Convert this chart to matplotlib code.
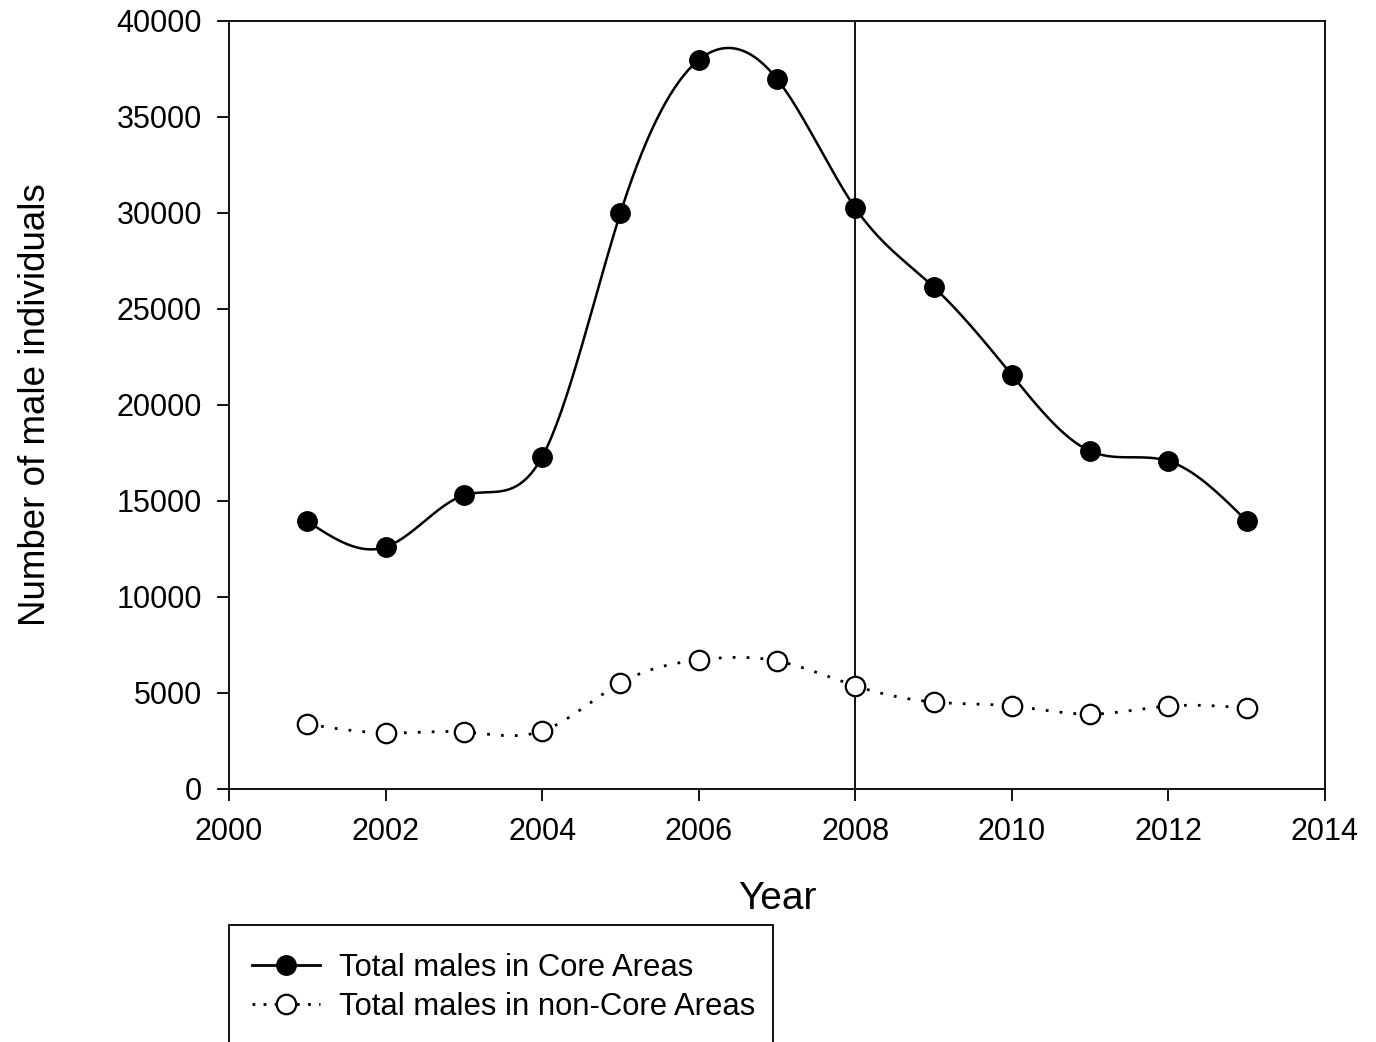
import numpy as np
import matplotlib
matplotlib.use('Agg')
import matplotlib.pyplot as plt
from matplotlib.patches import Rectangle

plt.rcParams['font.family'] = ['Liberation Sans', 'DejaVu Sans']

years = [2001, 2002, 2003, 2004, 2005, 2006, 2007, 2008, 2009, 2010, 2011, 2012, 2013]
core = [13950, 12600, 15300, 17300, 30000, 37970, 36980, 30260, 26150, 21560, 17600, 17080, 13960]
noncore = [3380, 2920, 2970, 3020, 5520, 6720, 6670, 5370, 4530, 4320, 3900, 4320, 4220]


def spline(x, y, n=400):
    # natural cubic spline through the points
    x = np.asarray(x, float)
    y = np.asarray(y, float)
    k = len(x)
    h = np.diff(x)
    A = np.zeros((k, k))
    b = np.zeros(k)
    A[0, 0] = A[-1, -1] = 1
    for i in range(1, k - 1):
        A[i, i - 1] = h[i - 1]
        A[i, i] = 2 * (h[i - 1] + h[i])
        A[i, i + 1] = h[i]
        b[i] = 6 * ((y[i + 1] - y[i]) / h[i] - (y[i] - y[i - 1]) / h[i - 1])
    M = np.linalg.solve(A, b)
    xs = np.linspace(x[0], x[-1], n)
    idx = np.clip(np.searchsorted(x, xs) - 1, 0, k - 2)
    x0, x1 = x[idx], x[idx + 1]
    hh = x1 - x0
    ys = (M[idx] * (x1 - xs) ** 3 / (6 * hh) + M[idx + 1] * (xs - x0) ** 3 / (6 * hh)
          + (y[idx] / hh - M[idx] * hh / 6) * (x1 - xs)
          + (y[idx + 1] / hh - M[idx + 1] * hh / 6) * (xs - x0))
    return xs, ys


fig = plt.figure(figsize=(13.76, 10.42), dpi=100)
ax = fig.add_axes([229 / 1376, 1 - 789 / 1042, (1325 - 229) / 1376, (789 - 21) / 1042])

xs, ys = spline(years, core)
ax.plot(xs, ys, 'k-', lw=1.8)
ax.plot(years, core, 'o', color='k', ms=14, zorder=3)

xs, ys = spline(years, noncore)
ax.plot(xs, ys, 'k', ls=(0, (1, 4)), lw=2)
ax.plot(years, noncore, 'o', mfc='white', mec='k', mew=1.6, ms=14, zorder=3)

ax.axvline(2008, color='k', lw=1.3)

ax.set_xlim(2000, 2014)
ax.set_ylim(0, 40000)
ax.set_xticks(range(2000, 2015, 2))
ax.set_yticks(range(0, 40001, 5000))
ax.tick_params(direction='out', length=8.5, width=1.3, labelsize=22)
ax.tick_params(axis='y', pad=11)
ax.tick_params(axis='x', pad=12)
for s in ax.spines.values():
    s.set_linewidth(1.3)
ax.set_xlabel('Year', fontsize=28, labelpad=24)
ax.set_ylabel('Number of male individuals', fontsize=26.5, labelpad=46)

fig.patches.append(Rectangle((229 / 1376, -0.05), (773 - 229) / 1376, 0.05 + 1 - 925 / 1042,
                             transform=fig.transFigure, fill=False, ec='k', lw=1.3))
h1, = ax.plot([], [], 'k-', marker='o', ms=14, lw=2)
h2, = ax.plot([], [], 'k', ls=(0, (1, 3)), lw=2, marker='o', mfc='white', mec='k', mew=1.6, ms=14)
fig.legend([h1, h2], ['Total males in Core Areas', 'Total males in non-Core Areas'],
           loc='upper left', bbox_to_anchor=(224 / 1376, 1 - 925 / 1042), frameon=False,
           fontsize=22.3, handlelength=2.2, handletextpad=0.6, labelspacing=0.3)

fig.savefig('out.png', dpi=100)
